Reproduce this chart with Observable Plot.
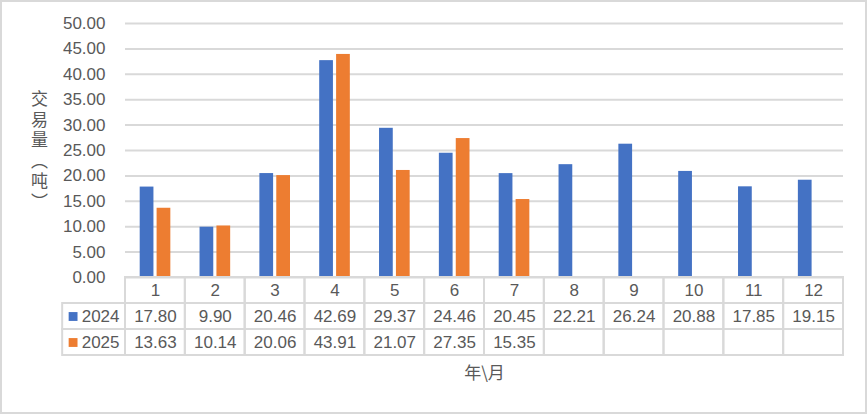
<!DOCTYPE html>
<html>
<head>
<meta charset="utf-8">
<script src="https://cdn.jsdelivr.net/npm/d3@7"></script>
<script src="https://cdn.jsdelivr.net/npm/@observablehq/plot@0.6"></script>
<style>
  html, body { margin: 0; padding: 0; background: #fff; }
  #wrap { position: relative; width: 867px; height: 414px; overflow: hidden; background: #fff; }
  #wrap svg { position: absolute; left: 0; overflow: visible; }
  #border { position: absolute; left: 0; top: 0; width: 867px; height: 414px; box-sizing: border-box; border: 2px solid #d9d9d9; pointer-events: none; }
  .ytitle text { writing-mode: vertical-rl; text-orientation: upright; letter-spacing: 3.5px; }
</style>
</head>
<body>
<div id="wrap"><div id="border"></div></div>
<script>
const months = [1, 2, 3, 4, 5, 6, 7, 8, 9, 10, 11, 12];
const series = ["2024", "2025"];
const values2024 = [17.80, 9.90, 20.46, 42.69, 29.37, 24.46, 20.45, 22.21, 26.24, 20.88, 17.85, 19.15];
const values2025 = [13.63, 10.14, 20.06, 43.91, 21.07, 27.35, 15.35];
const colors = ["#4472C4", "#ED7D31"];
const yTicks = [0, 5, 10, 15, 20, 25, 30, 35, 40, 45, 50];
const yTitle = "交易量︵吨︶";
const xTitle = "年\\月";

const fmt = d3.format(".2f");
const font = "'Liberation Sans', 'Noto Sans CJK SC', sans-serif";
const cjk = "'Noto Sans CJK SC', sans-serif";
const grey = "#595959";
const gridColor = "#d9d9d9";

const d2024 = months.map((m, i) => ({month: m, value: values2024[i]}));
const d2025 = values2025.map((v, i) => ({month: months[i], value: v}));

const chart = Plot.plot({
  width: 867,
  height: 414,
  marginLeft: 125,
  marginRight: 24,
  marginTop: 23,
  marginBottom: 137,
  style: {fontFamily: font, fontSize: "17px", color: grey, background: "transparent"},
  x: {type: "band", domain: months, padding: 0, round: false, axis: null},
  y: {domain: [0, 50], ticks: yTicks, tickFormat: fmt, tickSize: 0, tickPadding: 20, label: null},
  marks: [
    Plot.ruleY(yTicks, {stroke: gridColor, strokeWidth: 2}),
    Plot.barY(d2024, {x: "month", y: "value", fill: colors[0], insetLeft: 14.7, insetRight: 31.4}),
    Plot.barY(d2025, {x: "month", y: "value", fill: colors[1], insetLeft: 31.6, insetRight: 14.5}),
    Plot.axisY({ticks: yTicks, tickFormat: fmt, tickSize: 0, tickPadding: 20, label: null, fill: grey, fontSize: 17}),
    Plot.text([yTitle], {frameAnchor: "left", dx: -86, dy: -4, textAnchor: "middle", fill: grey, fontSize: 17, fontFamily: cjk, className: "ytitle"}),
    Plot.text([xTitle], {frameAnchor: "bottom", dy: 101, fill: grey, fontSize: 17, fontFamily: cjk})
  ]
});
chart.style.top = "0px";

// data table beneath the chart, sharing the same month bands
const rows = ["month", ...series];
const tableCols = ["legend", ...months];
const cells = [];
for (const m of months) cells.push({col: m, row: "month"});
for (const s of series) for (const m of months) cells.push({col: m, row: s});
const legendCells = series.map(s => ({col: "legend", row: s}));
const monthLabels = months.map(m => ({col: m, row: "month", text: String(m)}));
const valueLabels = [
  ...d2024.map(d => ({col: d.month, row: "2024", text: fmt(d.value)})),
  ...d2025.map(d => ({col: d.month, row: "2025", text: fmt(d.value)}))
];
const legendItems = series.map((s, i) => ({col: "legend", row: s, text: s, color: colors[i]}));

const table = Plot.plot({
  width: 867,
  height: 80,
  marginLeft: 125 - 718 / 12,
  marginRight: 24,
  marginTop: 1,
  marginBottom: 1,
  style: {fontFamily: font, fontSize: "17px", color: grey, background: "transparent"},
  x: {type: "band", domain: tableCols, padding: 0, round: false, axis: null},
  y: {type: "band", domain: rows, padding: 0, round: false, axis: null},
  marks: [
    Plot.cell(cells, {x: "col", y: "row", fill: "none", stroke: gridColor, strokeWidth: 2}),
    Plot.cell(legendCells, {x: "col", y: "row", fill: "none", stroke: gridColor, strokeWidth: 2, insetLeft: -3}),
    Plot.text(monthLabels, {x: "col", y: "row", text: "text", fill: grey, fontSize: 17}),
    Plot.text(valueLabels, {x: "col", y: "row", text: "text", fill: grey, fontSize: 17}),
    Plot.dot(legendItems, {x: "col", y: "row", symbol: "square", r: 5, fill: "color", stroke: null, dx: -22.5}),
    Plot.text(legendItems, {x: "col", y: "row", text: "text", fill: grey, fontSize: 17, dx: 5})
  ]
});
table.style.top = "276px";

const wrap = document.getElementById("wrap");
wrap.insertBefore(chart, wrap.firstChild);
wrap.insertBefore(table, document.getElementById("border"));
</script>
</body>
</html>
